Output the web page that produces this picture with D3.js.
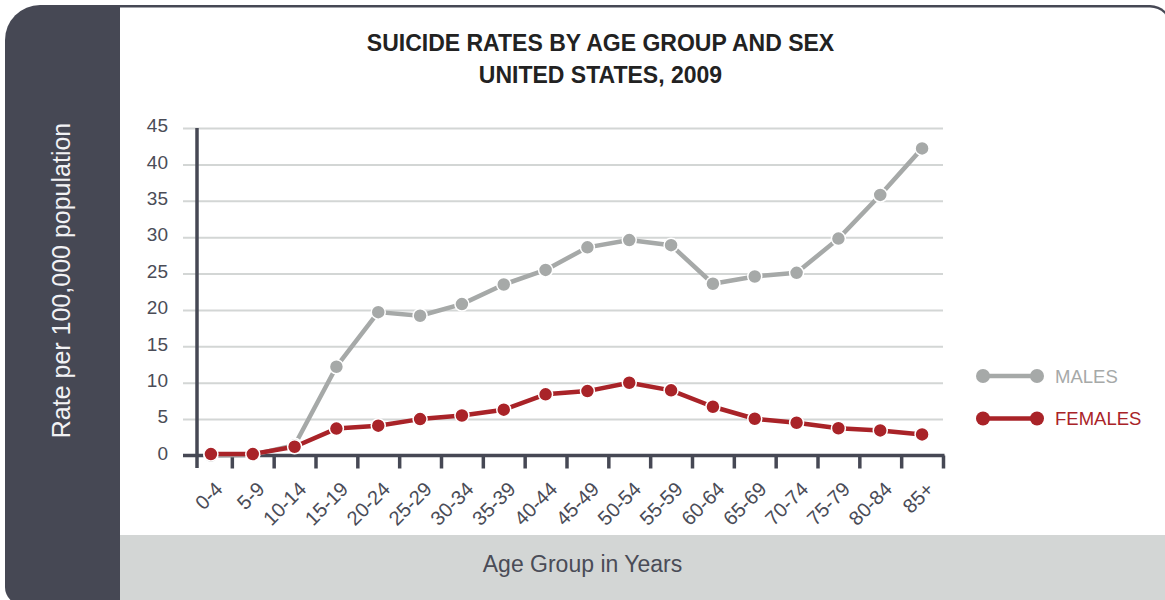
<!DOCTYPE html>
<meta charset="utf-8" />
<title>Suicide rates by age group and sex</title>
<script src="https://d3js.org/d3.v7.min.js"></script>
<style>
  html, body { margin: 0; padding: 0; background: #fff; }
  svg { display: block; font-family: "Liberation Sans", Arial, sans-serif; }
</style>
<body>
<div id="chart"></div>
<script>
  // Chart values
  var ageGroups = ["0-4", "5-9", "10-14", "15-19", "20-24", "25-29", "30-34", "35-39", "40-44",
                   "45-49", "50-54", "55-59", "60-64", "65-69", "70-74", "75-79", "80-84", "85+"];
  var males   = [0, 0.1, 1.4, 12.2, 19.7, 19.2, 20.8, 23.5, 25.5,
                 28.6, 29.6, 28.9, 23.6, 24.6, 25.1, 29.8, 35.8, 42.2];
  var females = [0.2, 0.2, 1.2, 3.7, 4.1, 5.0, 5.5, 6.3, 8.4,
                 8.85, 10.0, 8.95, 6.7, 5.05, 4.5, 3.75, 3.45, 2.9];
  var yTicks  = [0, 5, 10, 15, 20, 25, 30, 35, 40, 45];
  var seriesNames = ["MALES", "FEMALES"];

  var W = 1165, H = 600;
  var dark = "#464854", band = "#d3d6d5", ink = "#4a4c57";
  var grey = "#a6a9a8", red = "#a92328";
  var axisX = 197;

  var svg = d3.select("#chart").append("svg")
    .attr("width", W).attr("height", H);

  // frame: dark outer shape, white plot area, grey bottom band
  svg.append("path")
    .attr("d", "M5,40 A35,35 0 0 1 40,5 L1150,5 A22,22 0 0 1 1172,27 L1172,605 L23,605 A18,18 0 0 1 5,587 Z")
    .attr("fill", dark);
  svg.append("path")
    .attr("d", "M120,7.5 L1150,7.5 A20,20 0 0 1 1170,27.5 L1170,535 L120,535 Z")
    .attr("fill", "#fff");
  svg.append("rect")
    .attr("x", 120).attr("y", 535).attr("width", 1052).attr("height", 70)
    .attr("fill", band);

  // scales
  var x = d3.scaleBand().domain(ageGroups).range([190, 943]);
  var xi = d3.scaleLinear().domain([0, ageGroups.length]).range([190, 943]);
  var y = d3.scaleLinear().domain([0, 45]).range([455.5, 128]);
  var cx = function(d, i) { return x(ageGroups[i]) + x.bandwidth() / 2; };

  // y gridlines + labels
  var gy = svg.append("g")
    .attr("transform", "translate(183,0)")
    .call(d3.axisLeft(y).tickValues(yTicks).tickSize(-(943 - 183)).tickPadding(15));
  gy.select(".domain").remove();
  gy.selectAll(".tick line").attr("stroke", band).attr("stroke-width", 2);
  gy.selectAll(".tick text")
    .attr("dy", "0.2em")
    .attr("fill", ink)
    .style("font-size", "19px")
    .style("font-family", "Liberation Sans, Arial, sans-serif");

  // x axis: boundary ticks (the first one sits on the y axis)
  var gx = svg.append("g")
    .attr("transform", "translate(0,455.5)")
    .call(d3.axisBottom(xi).tickValues(d3.range(1, ageGroups.length + 1)).tickSize(13).tickFormat(""));
  gx.select(".domain").remove();
  gx.selectAll(".tick line").attr("stroke", dark).attr("stroke-width", 3.5);
  svg.append("line")
    .attr("x1", 183).attr("x2", 944.5).attr("y1", 455.5).attr("y2", 455.5)
    .attr("stroke", dark).attr("stroke-width", 3.5);

  // x axis: rotated category labels
  var gl = svg.append("g")
    .attr("transform", "translate(0,455.5)")
    .call(d3.axisBottom(x).tickSize(0));
  gl.select(".domain").remove();
  gl.selectAll(".tick text")
    .attr("x", 0).attr("y", 0).attr("dy", 0)
    .attr("transform", "translate(13,35) rotate(-45)")
    .style("text-anchor", "end")
    .style("font-size", "20px")
    .style("font-family", "Liberation Sans, Arial, sans-serif")
    .attr("fill", ink);

  // y axis line
  svg.append("line")
    .attr("x1", axisX).attr("x2", axisX).attr("y1", 128).attr("y2", 468)
    .attr("stroke", dark).attr("stroke-width", 3.5);

  // series
  function drawSeries(vals, color) {
    var line = d3.line()
      .x(function(d, i) { return cx(d, i); })
      .y(function(d) { return y(d); });
    svg.append("path")
      .datum(vals)
      .attr("d", line)
      .attr("fill", "none")
      .attr("stroke", color)
      .attr("stroke-width", 4.5)
      .attr("stroke-linejoin", "round");
    svg.append("g").selectAll("circle")
      .data(vals).join("circle")
      .attr("cx", cx)
      .attr("cy", function(d) { return y(d); })
      .attr("r", 7)
      .attr("fill", color)
      .attr("stroke", "#fff")
      .attr("stroke-width", 1.5);
  }
  drawSeries(males, grey);
  drawSeries(females, red);

  // legend
  var legend = svg.append("g");
  [grey, red].forEach(function(color, i) {
    var ly = 376 + i * 42.5;
    var lg = legend.append("g");
    lg.append("line")
      .attr("x1", 983).attr("x2", 1037).attr("y1", ly).attr("y2", ly)
      .attr("stroke", color).attr("stroke-width", 4.5);
    lg.selectAll("circle").data([983, 1037]).join("circle")
      .attr("cx", function(d) { return d; }).attr("cy", ly).attr("r", 7)
      .attr("fill", color);
    lg.append("text")
      .attr("x", 1055).attr("y", ly).attr("dy", "0.36em")
      .attr("fill", color)
      .style("font-size", "18.5px")
      .text(seriesNames[i]);
  });

  // titles
  svg.append("text")
    .attr("x", 600.5).attr("y", 50.5)
    .attr("text-anchor", "middle")
    .attr("fill", "#222")
    .style("font-size", "23px").style("font-weight", "bold")
    .text("SUICIDE RATES BY AGE GROUP AND SEX");
  svg.append("text")
    .attr("x", 600.5).attr("y", 83)
    .attr("text-anchor", "middle")
    .attr("fill", "#222")
    .style("font-size", "23px").style("font-weight", "bold")
    .text("UNITED STATES, 2009");

  svg.append("text")
    .attr("transform", "translate(70,280.5) rotate(-90)")
    .attr("text-anchor", "middle")
    .attr("fill", "#f2f2f4")
    .style("font-size", "25px")
    .text("Rate per 100,000 population");

  svg.append("text")
    .attr("x", 582.5).attr("y", 571.5)
    .attr("text-anchor", "middle")
    .attr("fill", ink)
    .style("font-size", "23px")
    .text("Age Group in Years");
</script>
</body>
